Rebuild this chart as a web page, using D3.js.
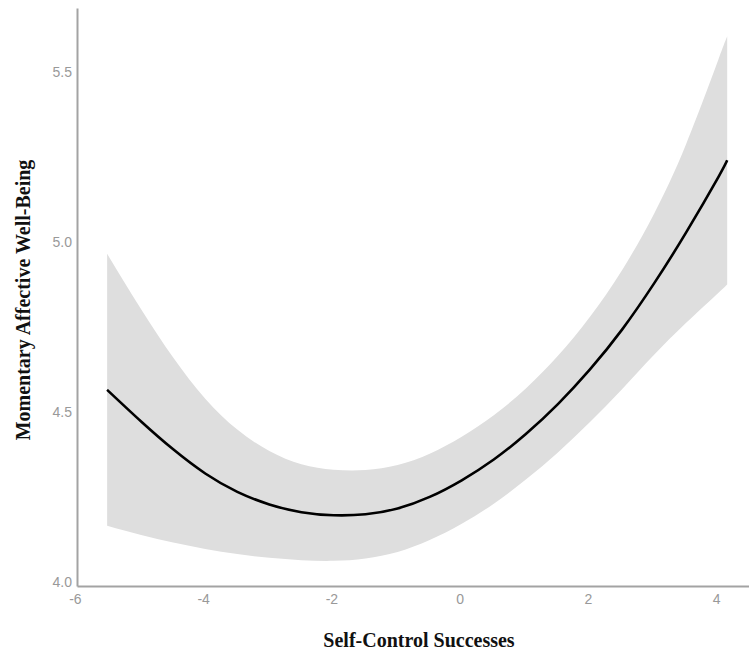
<!DOCTYPE html>
<html>
<head>
<meta charset="utf-8">
<script src="https://cdn.jsdelivr.net/npm/d3@7"></script>
<style>
  html, body { margin: 0; padding: 0; background: #fff; }
  svg { display: block; }
</style>
</head>
<body>
<svg id="chart" width="749" height="658"></svg>
<script>
// Data
const xValues = [-5.53, -5, -4.5, -4, -3.5, -3, -2.5, -2, -1.5, -1, -0.5, 0, 0.5, 1, 1.5, 2, 2.5, 3, 3.5, 4, 4.14];
const fitValues = [4.565, 4.472, 4.390, 4.319, 4.265, 4.228, 4.205, 4.196, 4.199, 4.216, 4.250, 4.299, 4.360, 4.435, 4.523, 4.625, 4.742, 4.878, 5.028, 5.190, 5.240];
const upperValues = [4.965, 4.802, 4.660, 4.539, 4.448, 4.385, 4.346, 4.330, 4.329, 4.344, 4.377, 4.427, 4.490, 4.569, 4.665, 4.780, 4.917, 5.083, 5.288, 5.535, 5.605];
const lowerValues = [4.165, 4.138, 4.116, 4.097, 4.082, 4.071, 4.064, 4.062, 4.069, 4.088, 4.123, 4.171, 4.230, 4.301, 4.381, 4.470, 4.567, 4.668, 4.762, 4.850, 4.875];
const xTicks = [-6, -4, -2, 0, 2, 4];
const yTicks = [4.0, 4.5, 5.0, 5.5];
const xTitle = "Self-Control Successes";
const yTitle = "Momentary Affective Well-Being";

const svg = d3.select("#chart");
const x = d3.scaleLinear().domain([-6, 4.48]).range([77, 749]);
const y = d3.scaleLinear().domain([3.988, 5.688]).range([586, 8]);

const pts = xValues.map((v, i) => ({x: v, fit: fitValues[i], lo: lowerValues[i], hi: upperValues[i]}));

// confidence band
svg.append("path")
  .datum(pts)
  .attr("fill", "#dedede")
  .attr("d", d3.area()
    .curve(d3.curveNatural)
    .x(d => x(d.x))
    .y0(d => y(d.lo))
    .y1(d => y(d.hi)));

// fitted line
svg.append("path")
  .datum(pts)
  .attr("fill", "none")
  .attr("stroke", "#000")
  .attr("stroke-width", 2.6)
  .attr("d", d3.line()
    .curve(d3.curveNatural)
    .x(d => x(d.x))
    .y(d => y(d.fit)));

// axes
const gx = svg.append("g")
  .attr("transform", "translate(0,586)")
  .call(d3.axisBottom(x).tickValues(xTicks).tickSize(0).tickPadding(8).tickFormat(d => String(d)));
const gy = svg.append("g")
  .attr("transform", "translate(77,0)")
  .call(d3.axisLeft(y).tickValues(yTicks).tickSize(0).tickPadding(5).tickFormat(d3.format(".1f")));

[gx, gy].forEach(g => {
  g.select(".domain").attr("stroke", "#a3a3a3").attr("stroke-width", 2);
  g.selectAll("text")
    .attr("fill", "#999")
    .style("font-family", "'Liberation Sans', Arial, sans-serif")
    .style("font-size", "14px");
});
gx.selectAll("text").attr("dx", "-0.15em");

// titles
svg.append("text")
  .attr("x", 419)
  .attr("y", 647)
  .attr("text-anchor", "middle")
  .style("font-family", "'Liberation Serif', 'Times New Roman', serif")
  .style("font-weight", "bold")
  .style("font-size", "20px")
  .attr("fill", "#111")
  .text(xTitle);

svg.append("text")
  .attr("transform", "translate(30,300) rotate(-90)")
  .attr("text-anchor", "middle")
  .style("font-family", "'Liberation Serif', 'Times New Roman', serif")
  .style("font-weight", "bold")
  .style("font-size", "20px")
  .attr("fill", "#111")
  .text(yTitle);
</script>
</body>
</html>
